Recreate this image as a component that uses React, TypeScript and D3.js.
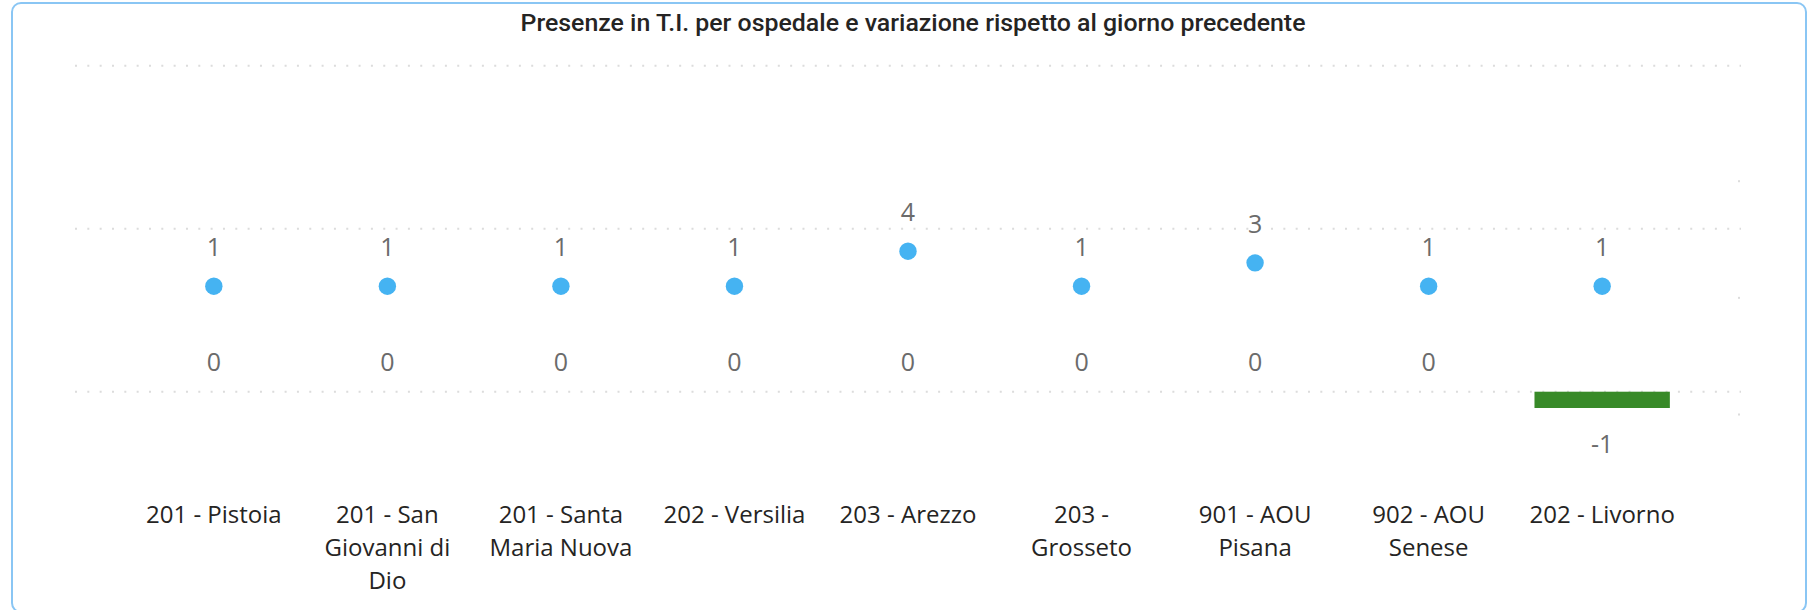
import React, { useMemo } from 'react'
import * as d3 from 'd3'

// dati
const categories = [
  '201 - Pistoia',
  '201 - San Giovanni di Dio',
  '201 - Santa Maria Nuova',
  '202 - Versilia',
  '203 - Arezzo',
  '203 - Grosseto',
  '901 - AOU Pisana',
  '902 - AOU Senese',
  '202 - Livorno',
]
const presenze = [1, 1, 1, 1, 4, 1, 3, 1, 1]
const variazione = [0, 0, 0, 0, 0, 0, 0, 0, -1]
const leftTicks = [0, 10, 20]
const rightTicks = [-10, 0, 10]

const title = 'Presenze in T.I. per ospedale e variazione rispetto al giorno precedente'

const W = 1808
const H = 610
const labelFont = "'Open Sans', 'Noto Sans', sans-serif"

function wrap(text: string, maxW: number, font: string): string[] {
  const ctx = document.createElement('canvas').getContext('2d')!
  ctx.font = font
  const words = text.split(' ')
  const lines: string[] = []
  let cur = ''
  words.forEach(w => {
    const test = cur ? cur + ' ' + w : w
    if (cur && ctx.measureText(test).width > maxW) {
      lines.push(cur)
      cur = w
    } else {
      cur = test
    }
  })
  if (cur) lines.push(cur)
  return lines
}

export default function App() {
  const x = d3.scaleBand<string>()
    .domain(categories)
    .range([75, 1741])
    .paddingInner(0.22)
    .paddingOuter(0.41)

  const yLeft = d3.scaleLinear().domain([0, 20]).range([391.7, 65.7])
  const yRight = d3.scaleLinear().domain([-10, 10]).range([414.5, 181.2])

  const wrapped = useMemo(
    () => categories.map(c => wrap(c, 150, `24px ${labelFont}`)),
    []
  )

  const cx = (c: string) => (x(c) as number) + x.bandwidth() / 2

  return (
    <svg width={W} height={H} style={{ position: 'absolute', left: 0, top: 0, display: 'block' }}>
      <rect x={12} y={3} width={1794} height={609} rx={9} fill="white" stroke="#8ac6f4" strokeWidth={2} />

      <text
        x={913}
        y={31}
        textAnchor="middle"
        textLength={785}
        lengthAdjust="spacingAndGlyphs"
        fontFamily="Roboto, 'Noto Sans', sans-serif"
        fontWeight={500}
        fontSize={23}
        fill="#252423"
      >
        {title}
      </text>

      {/* griglia asse principale */}
      {leftTicks.map(t => (
        <line
          key={'g' + t}
          x1={75}
          x2={1741}
          y1={yLeft(t)}
          y2={yLeft(t)}
          stroke="#dcdcdc"
          strokeWidth={2}
          strokeDasharray="2 10.33"
        />
      ))}
      {/* asse secondario, solo i segni */}
      {rightTicks.map(t => (
        <rect key={'r' + t} x={1738} y={yRight(t) - 1} width={2} height={2} fill="#dcdcdc" />
      ))}

      {/* colonne variazione */}
      {categories.map((c, i) => {
        const v = variazione[i]
        const y0 = yLeft(0)
        const y1 = yLeft(v)
        return v !== 0 ? (
          <rect
            key={'b' + c}
            x={x(c)}
            width={x.bandwidth()}
            y={Math.min(y0, y1)}
            height={Math.abs(y1 - y0)}
            fill="#388a28"
          />
        ) : null
      })}
      {categories.map((c, i) => {
        const v = variazione[i]
        const ty = v >= 0 ? yLeft(v) - 21 : yLeft(v) + 45
        return (
          <text key={'bl' + c} x={cx(c)} y={ty} textAnchor="middle"
            fontFamily={labelFont} fontSize={25} fill="#6b6b6b">
            {v}
          </text>
        )
      })}

      {/* punti presenze */}
      {categories.map((c, i) => (
        <circle key={'p' + c} cx={cx(c)} cy={yRight(presenze[i])} r={8.7} fill="#45b3f2" />
      ))}
      {categories.map((c, i) => (
        <text key={'pl' + c} x={cx(c)} y={yRight(presenze[i]) - 30} textAnchor="middle"
          fontFamily={labelFont} fontSize={25} fill="#6b6b6b">
          {presenze[i]}
        </text>
      ))}

      {/* etichette categorie */}
      {categories.map((c, i) => (
        <text key={'c' + c} x={cx(c)} y={523} textAnchor="middle"
          fontFamily={labelFont} fontSize={24} fill="#252423">
          {wrapped[i].map((line, j) => (
            <tspan key={j} x={cx(c)} dy={j === 0 ? 0 : 33}>{line}</tspan>
          ))}
        </text>
      ))}
    </svg>
  )
}
